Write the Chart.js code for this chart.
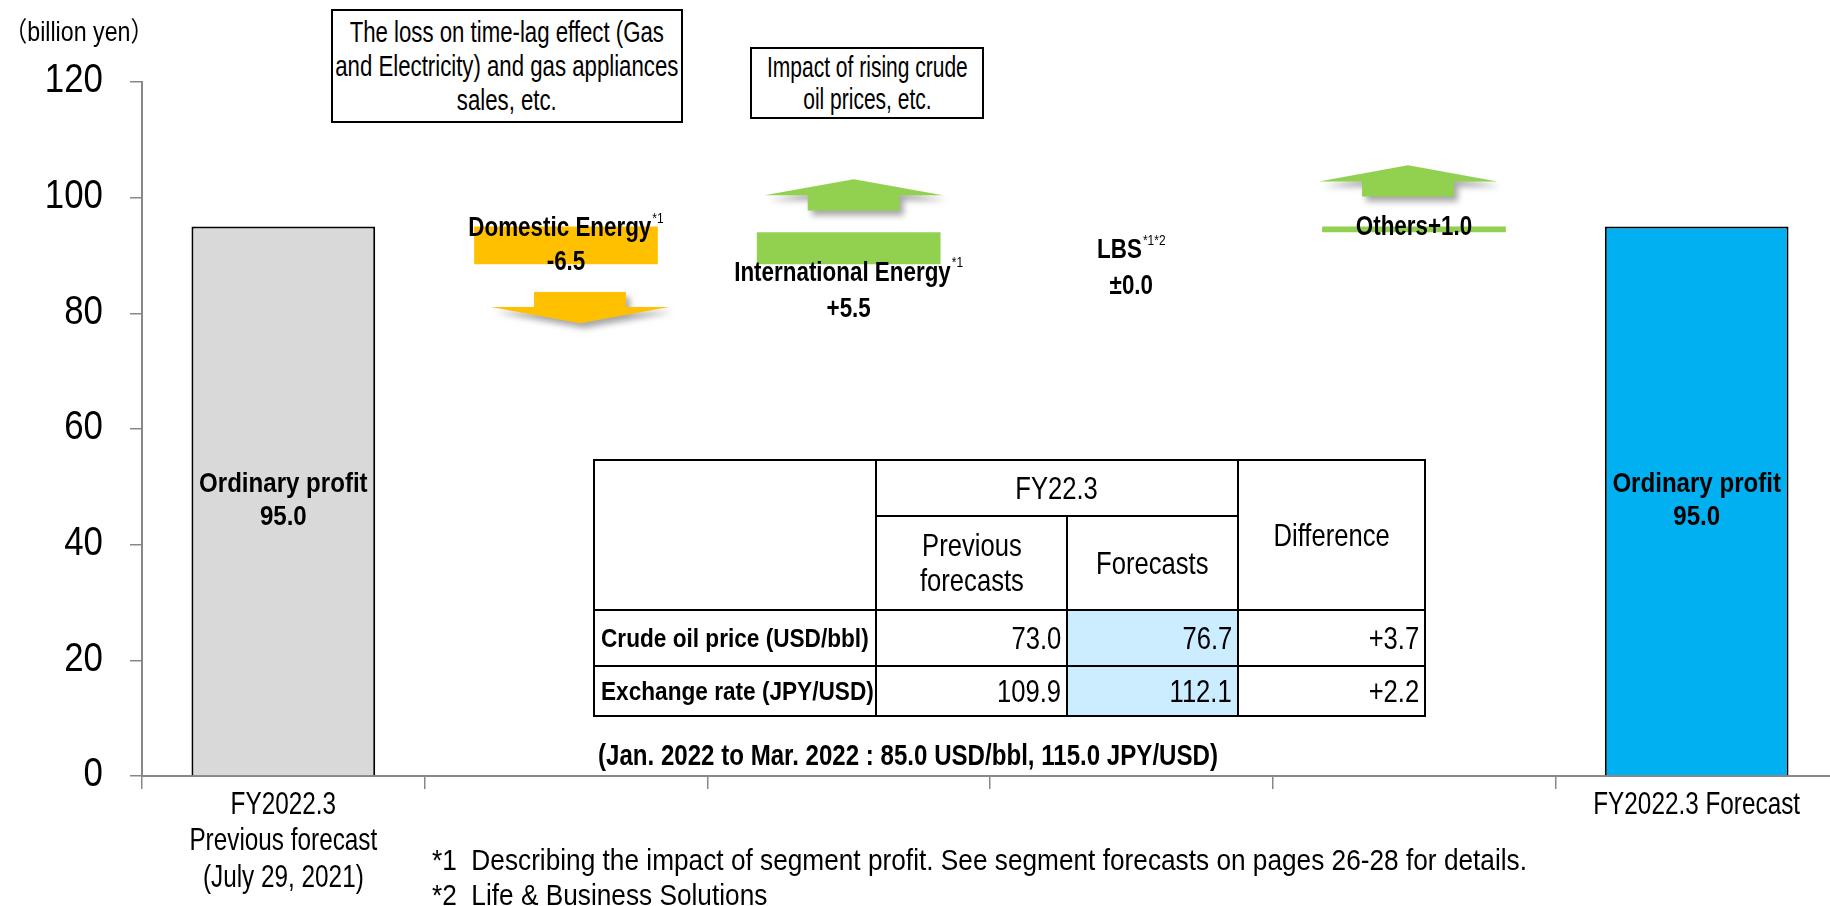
<!DOCTYPE html>
<html>
<head>
<meta charset="utf-8">
<script src="https://cdn.jsdelivr.net/npm/chart.js@4.4.1/dist/chart.umd.min.js"></script>
<style>
  html, body { margin: 0; padding: 0; background: #fff; overflow: hidden; }
  #wrap { position: relative; width: 1838px; height: 906px; font-family: 'Liberation Sans', Arial, sans-serif; color: #000; }
  #wrap canvas { position: absolute; left: 0; top: 0; }
  .box { position: absolute; border: 2px solid #000; box-sizing: border-box; text-align: center;
         font-size: 30px; display: flex; align-items: center; justify-content: center; background: #fff; }
  .box .inner { white-space: nowrap; transform-origin: center; }
  #rates { position: absolute; left: 593px; top: 459px; width: 831px; border-collapse: collapse; table-layout: fixed; font-size: 32px; }
  #rates td { border: 2px solid #000; padding: 0 5px; text-align: center; white-space: nowrap; line-height: 35px; }
  #rates td span { display: inline-block; transform: scaleX(0.8); transform-origin: center; }
  #rates td.name { text-align: left; font-weight: bold; font-size: 26px; padding-left: 6px; }
  #rates td.name span { transform: scaleX(0.87); transform-origin: left center; }
  #rates td.num { text-align: right; }
  #rates td.num span { transform-origin: right center; }
  #rates td.hl { background: #CCECFF; }
  .line { position: absolute; white-space: nowrap; transform-origin: left center; }
  #note { left: 598px; top: 738px; font-size: 30px; font-weight: bold; }
  .foot { left: 432px; font-size: 30px; white-space: pre; }
</style>
</head>
<body>
<div id="wrap">
  <canvas id="chart"></canvas>
  <div class="box" style="left:331px; top:9px; width:352px; height:114px; line-height:34px;"><div class="inner" id="box1" style="transform:scaleX(0.74)"></div></div>
  <div class="box" style="left:750px; top:47px; width:234px; height:72px; line-height:32px;"><div class="inner" id="box2" style="transform:scaleX(0.70)"></div></div>
  <table id="rates"></table>
  <div class="line" id="note"></div>
  <div class="line foot" id="foot1" style="top:843px;"></div>
  <div class="line foot" id="foot2" style="top:878px;"></div>
</div>
<script>
const categories = [['FY2022.3', 'Previous forecast', '(July 29, 2021)'], '', '', '', '', ['FY2022.3 Forecast']];
const previousProfit = 95.0;
const forecastProfit = 95.0;
const segmentNames = ['Domestic Energy', 'International Energy', 'LBS', 'Others'];
const segmentNotes = ['*1', '*1', '*1*2', ''];
const deltas = [-6.5, 5.5, 0.0, 1.0];
const barColors = ['#D9D9D9', '#FFC000', '#92D050', '#92D050', '#92D050', '#00B0F0'];
const yTicks = [0, 20, 40, 60, 80, 100, 120];

const impactNotes = [
    ['The loss on time-lag effect (Gas', 'and Electricity) and gas appliances', 'sales, etc.'],
    ['Impact of rising crude', 'oil prices, etc.']
];

const tableRows = ['Crude oil price (USD/bbl)', 'Exchange rate (JPY/USD)'];
const previousForecasts = [73.0, 109.9];
const forecasts = [76.7, 112.1];
const differences = [3.7, 2.2];
const periodNote = '(Jan. 2022 to Mar. 2022 : 85.0 USD/bbl, 115.0 JPY/USD)';
const footnotes = ['*1  Describing the impact of segment profit. See segment forecasts on pages 26-28 for details.',
    '*2  Life & Business Solutions'];

// arrow sizes (y units) and small sideways nudge (px)
const arrowGap = [4.8, 3.8, 0, 5.2];
const arrowShift = [14, 5, 0, -6];
const arrowStem = 2.6;
const arrowHead = 2.8;
// how far labels under a bar sit below it (px)
const labelDrop = [0, 9, 18, 0];

const FONT = "'Liberation Sans', Arial, 'Noto Sans CJK JP', sans-serif";

// waterfall ranges
const ranges = [[0, previousProfit]];
let running = previousProfit;
deltas.forEach(d => {
    ranges.push([running, running + d]);
    running += d;
});
ranges.push([0, forecastProfit]);

function signed(v) {
    if (v === 0) return '\u00b10.0';
    return (v > 0 ? '+' : '') + v.toFixed(1);
}

// html bits
document.getElementById('box1').innerHTML = impactNotes[0].join('<br>');
document.getElementById('box2').innerHTML = impactNotes[1].join('<br>');

let html = '<colgroup><col style="width:282px"><col style="width:191px"><col style="width:171px"><col style="width:187px"></colgroup>';
html += '<tr style="height:56px"><td rowspan="2"></td><td colspan="2"><span>FY22.3</span></td><td rowspan="2"><span>Difference</span></td></tr>';
html += '<tr style="height:94px"><td><span>Previous<br>forecasts</span></td><td><span>Forecasts</span></td></tr>';
tableRows.forEach((name, i) => {
    html += `<tr style="height:${i === 0 ? 56 : 50}px"><td class="name"><span>${name}</span></td>` +
        `<td class="num"><span>${previousForecasts[i].toFixed(1)}</span></td>` +
        `<td class="num hl"><span>${forecasts[i].toFixed(1)}</span></td>` +
        `<td class="num"><span>${signed(differences[i])}</span></td></tr>`;
});
document.getElementById('rates').innerHTML = html;

function fitLine(el, text, width) {
    el.textContent = text;
    const k = width / el.getBoundingClientRect().width;
    el.style.transform = `scaleX(${k})`;
    return k;
}
fitLine(document.getElementById('note'), periodNote, 620);
const footScale = fitLine(document.getElementById('foot1'), footnotes[0], 1095);
const foot2 = document.getElementById('foot2');
foot2.textContent = footnotes[1];
foot2.style.transform = `scaleX(${footScale})`;

// narrow text on the canvas
function narrow(ctx, text, x, y, font, sx, align) {
    ctx.save();
    ctx.font = font;
    ctx.textAlign = align || 'center';
    ctx.textBaseline = 'middle';
    ctx.translate(x, y);
    ctx.scale(sx, 1);
    ctx.fillText(text, 0, 0);
    ctx.restore();
}

function drawLabel(ctx, x, y, main, sup, sx) {
    const big = 'bold 28px ' + FONT;
    const small = '15px ' + FONT;
    ctx.font = big;
    const w1 = ctx.measureText(main).width * sx;
    ctx.font = small;
    const w2 = sup ? ctx.measureText(sup).width * sx + 1 : 0;
    const left = x - (w1 + w2) / 2;
    narrow(ctx, main, left, y, big, sx, 'left');
    if (sup) narrow(ctx, sup, left + w1 + 1, y - 10, small, sx, 'left');
}

const annotate = {
    id: 'annotate',
    afterDatasetsDraw(chart) {
        const ctx = chart.ctx;
        const y = chart.scales.y;
        const x = chart.scales.x;
        const bars = chart.getDatasetMeta(0).data;
        ctx.save();

        // arrows
        deltas.forEach((d, k) => {
            if (d === 0) return;
            const i = k + 1;
            const bar = bars[i];
            const cx = bar.x + arrowShift[k];
            const dir = Math.sign(d);
            const from = ranges[i][1] + dir * arrowGap[k];
            const p0 = y.getPixelForValue(from);
            const p1 = y.getPixelForValue(from + dir * arrowStem);
            const p2 = y.getPixelForValue(from + dir * (arrowStem + arrowHead));
            const hw = bar.width * 0.97 / 2;
            const sw = bar.width * 0.5 / 2;
            ctx.save();
            ctx.shadowColor = 'rgba(0,0,0,0.35)';
            ctx.shadowBlur = 6;
            ctx.shadowOffsetX = 4;
            ctx.shadowOffsetY = 5;
            ctx.fillStyle = barColors[i];
            ctx.beginPath();
            ctx.moveTo(cx - sw, p0);
            ctx.lineTo(cx - sw, p1);
            ctx.lineTo(cx - hw, p1);
            ctx.lineTo(cx, p2);
            ctx.lineTo(cx + hw, p1);
            ctx.lineTo(cx + sw, p1);
            ctx.lineTo(cx + sw, p0);
            ctx.closePath();
            ctx.fill();
            ctx.restore();
        });

        ctx.fillStyle = '#000';
        // totals
        [0, 5].forEach(i => {
            const bar = bars[i];
            const mid = (y.getPixelForValue(ranges[i][0]) + y.getPixelForValue(ranges[i][1])) / 2;
            drawLabel(ctx, bar.x, mid - 17, 'Ordinary profit', '', 0.86);
            drawLabel(ctx, bar.x, mid + 16, ranges[i][1].toFixed(1), '', 0.86);
        });

        // segments
        deltas.forEach((d, k) => {
            const i = k + 1;
            const bar = bars[i];
            const a = y.getPixelForValue(ranges[i][0]);
            const b = y.getPixelForValue(ranges[i][1]);
            const mid = (a + b) / 2;
            const low = Math.max(a, b);
            if (segmentNotes[k] === '') {
                drawLabel(ctx, bar.x, mid - 2, segmentNames[k] + signed(d), '', 0.8);
            } else if (d < 0) {
                drawLabel(ctx, bar.x, mid - 17, segmentNames[k], segmentNotes[k], 0.8);
                drawLabel(ctx, bar.x, mid + 17, signed(d), '', 0.8);
            } else {
                drawLabel(ctx, bar.x, low + labelDrop[k], segmentNames[k], segmentNotes[k], 0.8);
                drawLabel(ctx, bar.x, low + labelDrop[k] + 36, signed(d), '', 0.8);
            }
        });

        // y tick labels
        yTicks.forEach(v => {
            narrow(ctx, String(v), 103, y.getPixelForValue(v) - 1, '41px ' + FONT, 0.85, 'right');
        });

        // x tick labels
        categories.forEach((lab, i) => {
            const lines = Array.isArray(lab) ? lab : [lab];
            lines.forEach((t, j) => {
                if (t) narrow(ctx, t, x.getPixelForValue(i), y.bottom + 29 + j * 36.5, '32px ' + FONT, 0.76);
            });
        });

        // unit
        narrow(ctx, '\uff08billion yen\uff09', 4, 34, '27px ' + FONT, 0.86, 'left');
        ctx.restore();
    }
};

new Chart(document.getElementById('chart'), {
    type: 'bar',
    data: {
        labels: categories,
        datasets: [{
            data: ranges,
            backgroundColor: barColors,
            borderColor: '#000',
            borderWidth: [2, 0, 0, 0, 0, 2],
            borderSkipped: 'start',
            categoryPercentage: 1,
            barPercentage: 0.65
        }]
    },
    options: {
        responsive: true,
        maintainAspectRatio: false,
        animation: false,
        layout: { padding: { top: 82, left: 0, right: 0, bottom: 0 } },
        plugins: { legend: { display: false }, tooltip: { enabled: false } },
        scales: {
            x: {
                grid: { offset: true, drawOnChartArea: false, drawTicks: true, tickLength: 13, color: '#888', lineWidth: 1.5 },
                border: { color: '#888', width: 2 },
                ticks: { display: false },
                afterFit: s => { s.height = 130; }
            },
            y: {
                min: 0,
                max: 120,
                afterBuildTicks: s => { s.ticks = yTicks.map(v => ({ value: v })); },
                grid: { drawOnChartArea: false, drawTicks: true, tickLength: 12, color: '#888', lineWidth: 1.5 },
                border: { color: '#888', width: 2 },
                ticks: { display: false },
                afterFit: s => { s.width = 142; }
            }
        }
    },
    plugins: [annotate]
});
</script>
</body>
</html>
